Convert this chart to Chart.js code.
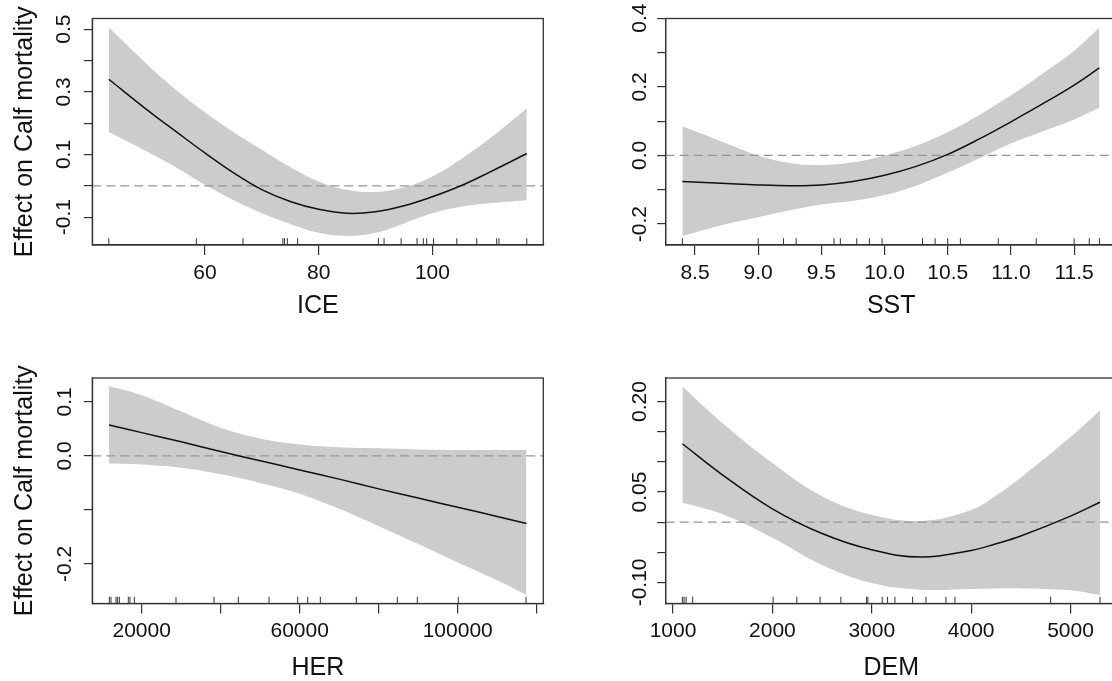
<!DOCTYPE html>
<html>
<head>
<meta charset="utf-8">
<title>Calf mortality smooths</title>
<script src="https://cdn.jsdelivr.net/npm/chart.js@4.4.1/dist/chart.umd.min.js"></script>
<style>
  html, body { margin: 0; padding: 0; background: #fff; overflow: hidden; }
  #wrap { position: relative; width: 1112px; height: 681px; overflow: hidden; }
  canvas { position: absolute; }
</style>
</head>
<body>
<div id="wrap">
  <canvas id="ice" width="556" height="340" style="left:0;top:0"></canvas>
  <canvas id="sst" width="566" height="340" style="left:556px;top:0"></canvas>
  <canvas id="her" width="556" height="341" style="left:0;top:340px"></canvas>
  <canvas id="dem" width="566" height="341" style="left:556px;top:340px"></canvas>
</div>
<script>
// ICE smooth: fitted effect with upper / lower 2 s.e. limits
const iceX     = [43.1, 50, 55, 60, 65, 70, 75, 80, 85, 90, 95, 100, 105, 110, 116.6];
const iceFit   = [0.34, 0.240, 0.172, 0.105, 0.042, -0.012, -0.050, -0.075, -0.088, -0.083, -0.064, -0.035, 0.0, 0.043, 0.103];
const iceUpper = [0.505, 0.385, 0.305, 0.235, 0.172, 0.115, 0.060, 0.014, -0.013, -0.020, -0.005, 0.030, 0.085, 0.150, 0.247];
const iceLower = [0.172, 0.108, 0.058, 0.003, -0.045, -0.087, -0.122, -0.150, -0.160, -0.150, -0.120, -0.088, -0.067, -0.056, -0.046];
const iceRug   = [43.1, 58.5, 66.7, 73.7, 74.0, 74.5, 76.3, 90.5, 91.5, 94.5, 97.3, 98.4, 99.0, 100.2, 104.3, 107.8, 111.3, 111.7, 116.6];
const iceXRange = [40.2, 119.5];
const iceYRange = [-0.189, 0.534];
const iceXTicks = [60, 80, 100];
const iceXLabels = ['60', '80', '100'];
const iceYTicks = [-0.1, 0, 0.1, 0.2, 0.3, 0.4, 0.5];
const iceYLabels = ['-0.1', '', '0.1', '', '0.3', '', '0.5'];

// SST smooth
const sstX     = [8.40, 8.75, 9.0, 9.25, 9.5, 9.75, 10.0, 10.25, 10.5, 10.75, 11.0, 11.25, 11.5, 11.70];
const sstFit   = [-0.076, -0.082, -0.086, -0.088, -0.086, -0.076, -0.058, -0.032, 0.003, 0.048, 0.098, 0.150, 0.205, 0.255];
const sstUpper = [0.085, 0.035, 0.0, -0.022, -0.028, -0.020, 0.0, 0.028, 0.068, 0.118, 0.175, 0.238, 0.305, 0.372];
const sstLower = [-0.235, -0.200, -0.180, -0.160, -0.143, -0.132, -0.115, -0.088, -0.050, -0.008, 0.035, 0.070, 0.105, 0.139];
const sstRug   = [8.40, 9.00, 9.20, 9.30, 9.60, 9.65, 9.78, 9.88, 9.98, 10.30, 10.40, 10.50, 10.60, 10.90, 11.20, 11.50, 11.62, 11.70];
const sstXRange = [8.268, 11.837];
const sstYRange = [-0.261, 0.399];
const sstXTicks = [8.5, 9.0, 9.5, 10.0, 10.5, 11.0, 11.5];
const sstXLabels = ['8.5', '9.0', '9.5', '10.0', '10.5', '11.0', '11.5'];
const sstYTicks = [-0.2, -0.1, 0, 0.1, 0.2, 0.3, 0.4];
const sstYLabels = ['-0.2', '', '0.0', '', '0.2', '', '0.4'];

// HER smooth
const herX     = [11700, 20000, 30000, 40000, 50000, 60000, 70000, 80000, 90000, 100000, 110000, 117400];
const herFit   = [0.057, 0.043, 0.026, 0.008, -0.009, -0.026, -0.043, -0.061, -0.078, -0.095, -0.112, -0.125];
const herUpper = [0.129, 0.112, 0.082, 0.052, 0.032, 0.021, 0.016, 0.014, 0.012, 0.011, 0.011, 0.011];
const herLower = [-0.014, -0.016, -0.022, -0.034, -0.050, -0.070, -0.098, -0.130, -0.163, -0.197, -0.230, -0.257];
const herRug   = [11800, 12230, 13500, 13920, 14330, 16610, 17040, 18130, 28680, 38300, 44460, 52230, 59490, 62030, 65220, 74330, 84710, 89770, 100150, 117290];
const herXRange = [7494, 121671];
const herYRange = [-0.273, 0.144];
const herXTicks = [20000, 40000, 60000, 80000, 100000, 120000];
const herXLabels = ['20000', '', '60000', '', '100000', ''];
const herYTicks = [-0.2, -0.1, 0, 0.1];
const herYLabels = ['-0.2', '', '0.0', '0.1'];

// DEM smooth
const demX     = [1094, 1500, 2000, 2500, 3000, 3500, 4000, 4250, 4500, 5000, 5297];
const demFit   = [0.130, 0.078, 0.022, -0.019, -0.046, -0.058, -0.047, -0.036, -0.023, 0.010, 0.033];
const demUpper = [0.225, 0.164, 0.098, 0.043, 0.012, 0.002, 0.020, 0.044, 0.074, 0.141, 0.185];
const demLower = [0.032, 0.013, -0.026, -0.071, -0.101, -0.112, -0.111, -0.110, -0.110, -0.113, -0.121];
const demRug   = [1094, 1111, 1131, 1198, 2007, 2246, 2480, 2689, 2948, 2961, 3105, 3159, 3233, 3411, 3545, 3746, 3837, 4800, 5297];
const demXRange = [926, 5465];
const demYRange = [-0.135, 0.239];
const demXTicks = [1000, 2000, 3000, 4000, 5000];
const demXLabels = ['1000', '2000', '3000', '4000', '5000'];
const demYTicks = [-0.10, -0.05, 0, 0.05, 0.10, 0.15, 0.20];
const demYLabels = ['-0.10', '', '', '0.05', '', '', '0.20'];

const FONT = "'Liberation Sans', Arial, sans-serif";
const tickFont = { family: FONT, size: 21 };
const titleFont = { family: FONT, size: 25, lineHeight: 1 };
const INK = '#111';
const AXIS = '#333';

// plot frame plus the rug of observed covariate values along the bottom
const frame = {
  id: 'frame',
  afterDatasetsDraw(chart, args, opts) {
    const { ctx, chartArea: a } = chart;
    const x = chart.scales.x;
    const len = (a.bottom - a.top) * 0.03;
    ctx.save();
    ctx.strokeStyle = '#333';
    ctx.lineWidth = 1;
    ctx.beginPath();
    for (const v of opts.rug) {
      const px = x.getPixelForValue(v);
      ctx.moveTo(px, a.bottom);
      ctx.lineTo(px, a.bottom - len);
    }
    ctx.stroke();
    ctx.strokeStyle = AXIS;
    ctx.lineWidth = 1.3;
    ctx.strokeRect(a.left, a.top, a.right - a.left, a.bottom - a.top);
    ctx.restore();
  }
};

function drawPanel(id, p) {
  const pts = ys => p.x.map((x, i) => ({ x, y: ys[i] }));
  new Chart(document.getElementById(id), {
    type: 'line',
    data: {
      datasets: [
        { data: pts(p.upper), borderWidth: 0, pointRadius: 0, fill: '+1',
          backgroundColor: '#cccccc', tension: 0.4, order: 3 },
        { data: pts(p.lower), borderWidth: 0, pointRadius: 0, fill: false,
          tension: 0.4, order: 3 },
        { data: [{ x: p.xRange[0], y: 0 }, { x: p.xRange[1], y: 0 }], borderColor: '#959595',
          borderDash: [9, 5], borderWidth: 1.3, pointRadius: 0, fill: false, order: 1 },
        { data: pts(p.fit), borderColor: INK, borderWidth: 1.5, pointRadius: 0, fill: false,
          tension: 0.4, order: 0 }
      ]
    },
    options: {
      responsive: false,
      animation: false,
      events: [],
      layout: { padding: p.pad },
      plugins: { legend: { display: false }, tooltip: { enabled: false }, frame: { rug: p.rug } },
      scales: {
        x: {
          type: 'linear',
          min: p.xRange[0],
          max: p.xRange[1],
          afterBuildTicks: s => { s.ticks = p.xTicks.map(value => ({ value })); },
          afterFit: s => { s.height = p.xHeight; },
          ticks: { callback: (v, i) => p.xLabels[i], font: tickFont, color: INK, padding: 5.5,
                   autoSkip: false, maxRotation: 0 },
          grid: { drawOnChartArea: false, tickLength: 10, color: AXIS, lineWidth: 1.2 },
          border: { color: AXIS, width: 1.2 },
          title: { display: true, text: p.xTitle, font: titleFont, color: INK, padding: 0 }
        },
        y: {
          type: 'linear',
          min: p.yRange[0],
          max: p.yRange[1],
          afterBuildTicks: s => { s.ticks = p.yTicks.map(value => ({ value })); },
          afterFit: s => { s.width = p.yWidth; },
          ticks: { callback: (v, i) => p.yLabels[i], font: tickFont, color: INK, padding: p.yPad,
                   autoSkip: false, minRotation: 90, maxRotation: 90, crossAlign: 'center' },
          grid: { drawOnChartArea: false, tickLength: 8.5, color: AXIS, lineWidth: 1.2 },
          border: { color: AXIS, width: 1.2 },
          title: { display: !!p.yTitle, text: p.yTitle || '', font: titleFont, color: INK,
                   padding: { top: 12.5, bottom: 0 } }
        }
      }
    },
    plugins: [frame]
  });
}

drawPanel('ice', {
  x: iceX, fit: iceFit, upper: iceUpper, lower: iceLower, rug: iceRug,
  xRange: iceXRange, yRange: iceYRange, xTicks: iceXTicks, xLabels: iceXLabels,
  yTicks: iceYTicks, yLabels: iceYLabels, xTitle: 'ICE', yTitle: 'Effect on Calf mortality',
  pad: { left: 0, top: 18.5, right: 12.7, bottom: 21 }, yWidth: 92.3, xHeight: 74, yPad: 2
});

drawPanel('sst', {
  x: sstX, fit: sstFit, upper: sstUpper, lower: sstLower, rug: sstRug,
  xRange: sstXRange, yRange: sstYRange, xTicks: sstXTicks, xLabels: sstXLabels,
  yTicks: sstYTicks, yLabels: sstYLabels, xTitle: 'SST',
  pad: { left: 0, top: 18.5, right: 5.3, bottom: 21 }, yWidth: 109.7, xHeight: 74, yPad: -1
});

drawPanel('her', {
  x: herX, fit: herFit, upper: herUpper, lower: herLower, rug: herRug,
  xRange: herXRange, yRange: herYRange, xTicks: herXTicks, xLabels: herXLabels,
  yTicks: herYTicks, yLabels: herYLabels, xTitle: 'HER', yTitle: 'Effect on Calf mortality',
  pad: { left: 0, top: 38, right: 12.7, bottom: 0.7 }, yWidth: 92.3, xHeight: 76.8, yPad: 1
});

drawPanel('dem', {
  x: demX, fit: demFit, upper: demUpper, lower: demLower, rug: demRug,
  xRange: demXRange, yRange: demYRange, xTicks: demXTicks, xLabels: demXLabels,
  yTicks: demYTicks, yLabels: demYLabels, xTitle: 'DEM',
  pad: { left: 0, top: 38, right: 5.3, bottom: 0.7 }, yWidth: 109.7, xHeight: 76.8, yPad: -7
});
</script>
</body>
</html>
